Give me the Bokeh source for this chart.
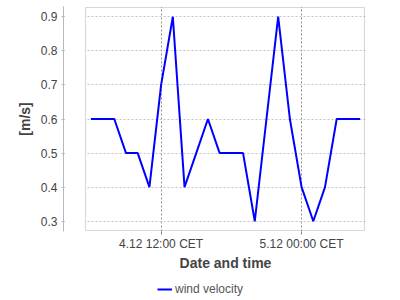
import pandas as pd
from bokeh.plotting import figure
from bokeh.layouts import column
from bokeh.models import (ColumnDataSource, FixedTicker, Legend, BoxAnnotation,
                          LegendItem, Range1d, Label)
from bokeh.embed import file_html
from bokeh.resources import INLINE

# ---- data ----
times = [
    "2012-12-04 06:00", "2012-12-04 07:00", "2012-12-04 08:00", "2012-12-04 09:00",
    "2012-12-04 10:00", "2012-12-04 11:00", "2012-12-04 12:00", "2012-12-04 13:00",
    "2012-12-04 14:00", "2012-12-04 15:00", "2012-12-04 16:00", "2012-12-04 17:00",
    "2012-12-04 18:00", "2012-12-04 19:00", "2012-12-04 20:00", "2012-12-04 21:00",
    "2012-12-04 22:00", "2012-12-04 23:00", "2012-12-05 00:00", "2012-12-05 01:00",
    "2012-12-05 02:00", "2012-12-05 03:00", "2012-12-05 04:00", "2012-12-05 05:00",
]
wind_velocity = [0.6, 0.6, 0.6, 0.5, 0.5, 0.4, 0.7, 0.9, 0.4, 0.5, 0.6, 0.5,
                 0.5, 0.5, 0.3, 0.6, 0.9, 0.6, 0.4, 0.3, 0.4, 0.6, 0.6, 0.6]
x_tick_times = ["2012-12-04 12:00", "2012-12-05 00:00"]
x_tick_labels = ["4.12 12:00 CET", "5.12 00:00 CET"]
y_ticks = [0.3, 0.4, 0.5, 0.6, 0.7, 0.8, 0.9]
series_name = "wind velocity"
x_title = "Date and time"
y_title = "[m/s]"

FONT = "Liberation Sans"
LINE_COLOR = "#0000ff"
W, H = 400, 253
BL, BR, BT, BB = 63, 35, 6, 20
AXIS_GAP = 22  # gap between the y axis and the plot box, in pixels
STRIP_H = 300 - H

t = pd.to_datetime(times)
src = ColumnDataSource(dict(t=t, v=wind_velocity))
tick_ms = [int(pd.Timestamp(s).value // 10**6) for s in x_tick_times]

t_ms = [int(v.value // 10**6) for v in t]
x_pad = 0.02 * (max(t_ms) - min(t_ms))
box_x0, x1 = min(t_ms) - x_pad, max(t_ms) + x_pad
box_w = W - BL - BR - AXIS_GAP
ms_per_px = (x1 - box_x0) / box_w
x0 = box_x0 - AXIS_GAP * ms_per_px

y_pad = 0.05 * (max(wind_velocity) - min(wind_velocity))
y0, y1 = min(wind_velocity) - y_pad, max(wind_velocity) + y_pad
v_per_px = (y1 - y0) / (H - BT - BB)

p = figure(width=W, height=H, x_axis_type="datetime",
           output_backend="svg", toolbar_location=None,
           x_range=Range1d(x0, x1), y_range=Range1d(y0, y1),
           min_border_left=BL, min_border_right=BR, min_border_top=BT,
           min_border_bottom=BB)
p.background_fill_color = "white"
p.border_fill_color = "white"
p.outline_line_color = None

# grids
p.xgrid.grid_line_color = "#909090"
p.xgrid.grid_line_dash = "2 2"
p.ygrid.grid_line_color = "#c4c4c4"
p.ygrid.grid_line_dash = "2 2"

r = p.line(x="t", y="v", source=src, line_color=LINE_COLOR, line_width=2)

# blank the gap between axis and plot box, then draw the plot box
p.add_layout(BoxAnnotation(left=x0 + 1.5 * ms_per_px, right=box_x0,
                           fill_color="white", fill_alpha=1, line_color=None))
p.add_layout(BoxAnnotation(left=box_x0, right=x1 - 1 * ms_per_px,
                           top=y1 - 1 * v_per_px, bottom=y0 + 1 * v_per_px,
                           fill_color=None, fill_alpha=0,
                           line_color="#808080", line_width=1.2))

# x axis
xa = p.xaxis[0]
xa.ticker = FixedTicker(ticks=tick_ms)
xa.major_label_overrides = dict(zip(tick_ms, x_tick_labels))
xa.axis_line_color = None
xa.major_tick_line_color = "#808080"
xa.major_tick_out = 3
xa.major_tick_in = 0
xa.minor_tick_line_color = None
xa.major_label_standoff = 2
xa.major_label_text_font = FONT
xa.major_label_text_font_size = "12px"
xa.major_label_text_color = "#444444"

# y axis
ya = p.yaxis[0]
ya.ticker = FixedTicker(ticks=y_ticks)
ya.axis_line_color = "#b8b8b8"
ya.major_tick_line_color = "#b8b8b8"
ya.major_tick_out = 2
ya.major_tick_in = 0
ya.minor_tick_line_color = None
ya.major_label_standoff = 4
ya.major_label_text_font = FONT
ya.major_label_text_font_size = "12px"
ya.major_label_text_color = "#444444"
ya.axis_label = y_title
ya.axis_label_text_font = FONT
ya.axis_label_text_font_size = "14px"
ya.axis_label_text_font_style = "bold"
ya.axis_label_text_color = "#444444"
ya.axis_label_standoff = 5

# strip below the chart: x-axis title (centred on the plot box) and legend
leg = figure(width=W, height=STRIP_H, output_backend="svg", toolbar_location=None,
             x_range=Range1d(0, 1), y_range=Range1d(0, 1), min_border=0)
leg.axis.visible = False
leg.grid.visible = False
leg.outline_line_color = None
leg.background_fill_color = "white"
leg.border_fill_color = "white"

box_center = AXIS_GAP + box_w / 2
leg.add_layout(Label(x=box_center, y=STRIP_H - 9, x_units="screen", y_units="screen",
                     text=x_title, text_align="center", text_baseline="middle",
                     text_font=FONT, text_font_size="14px", text_font_style="bold",
                     text_color="#444444"))

lr = leg.line(x=[2, 3], y=[2, 3], line_color=LINE_COLOR, line_width=2)
legend = Legend(items=[LegendItem(label=series_name, renderers=[lr])],
                orientation="horizontal", location=(94, 4),
                border_line_color=None, background_fill_alpha=0,
                glyph_width=15, glyph_height=12, label_standoff=3,
                label_width=0, label_height=12,
                padding=0, margin=0, label_text_font=FONT,
                label_text_font_size="12px", label_text_color="#555555")
leg.add_layout(legend, "center")

layout = column(p, leg, spacing=0)
open("out.html", "w").write(file_html(layout, INLINE))
